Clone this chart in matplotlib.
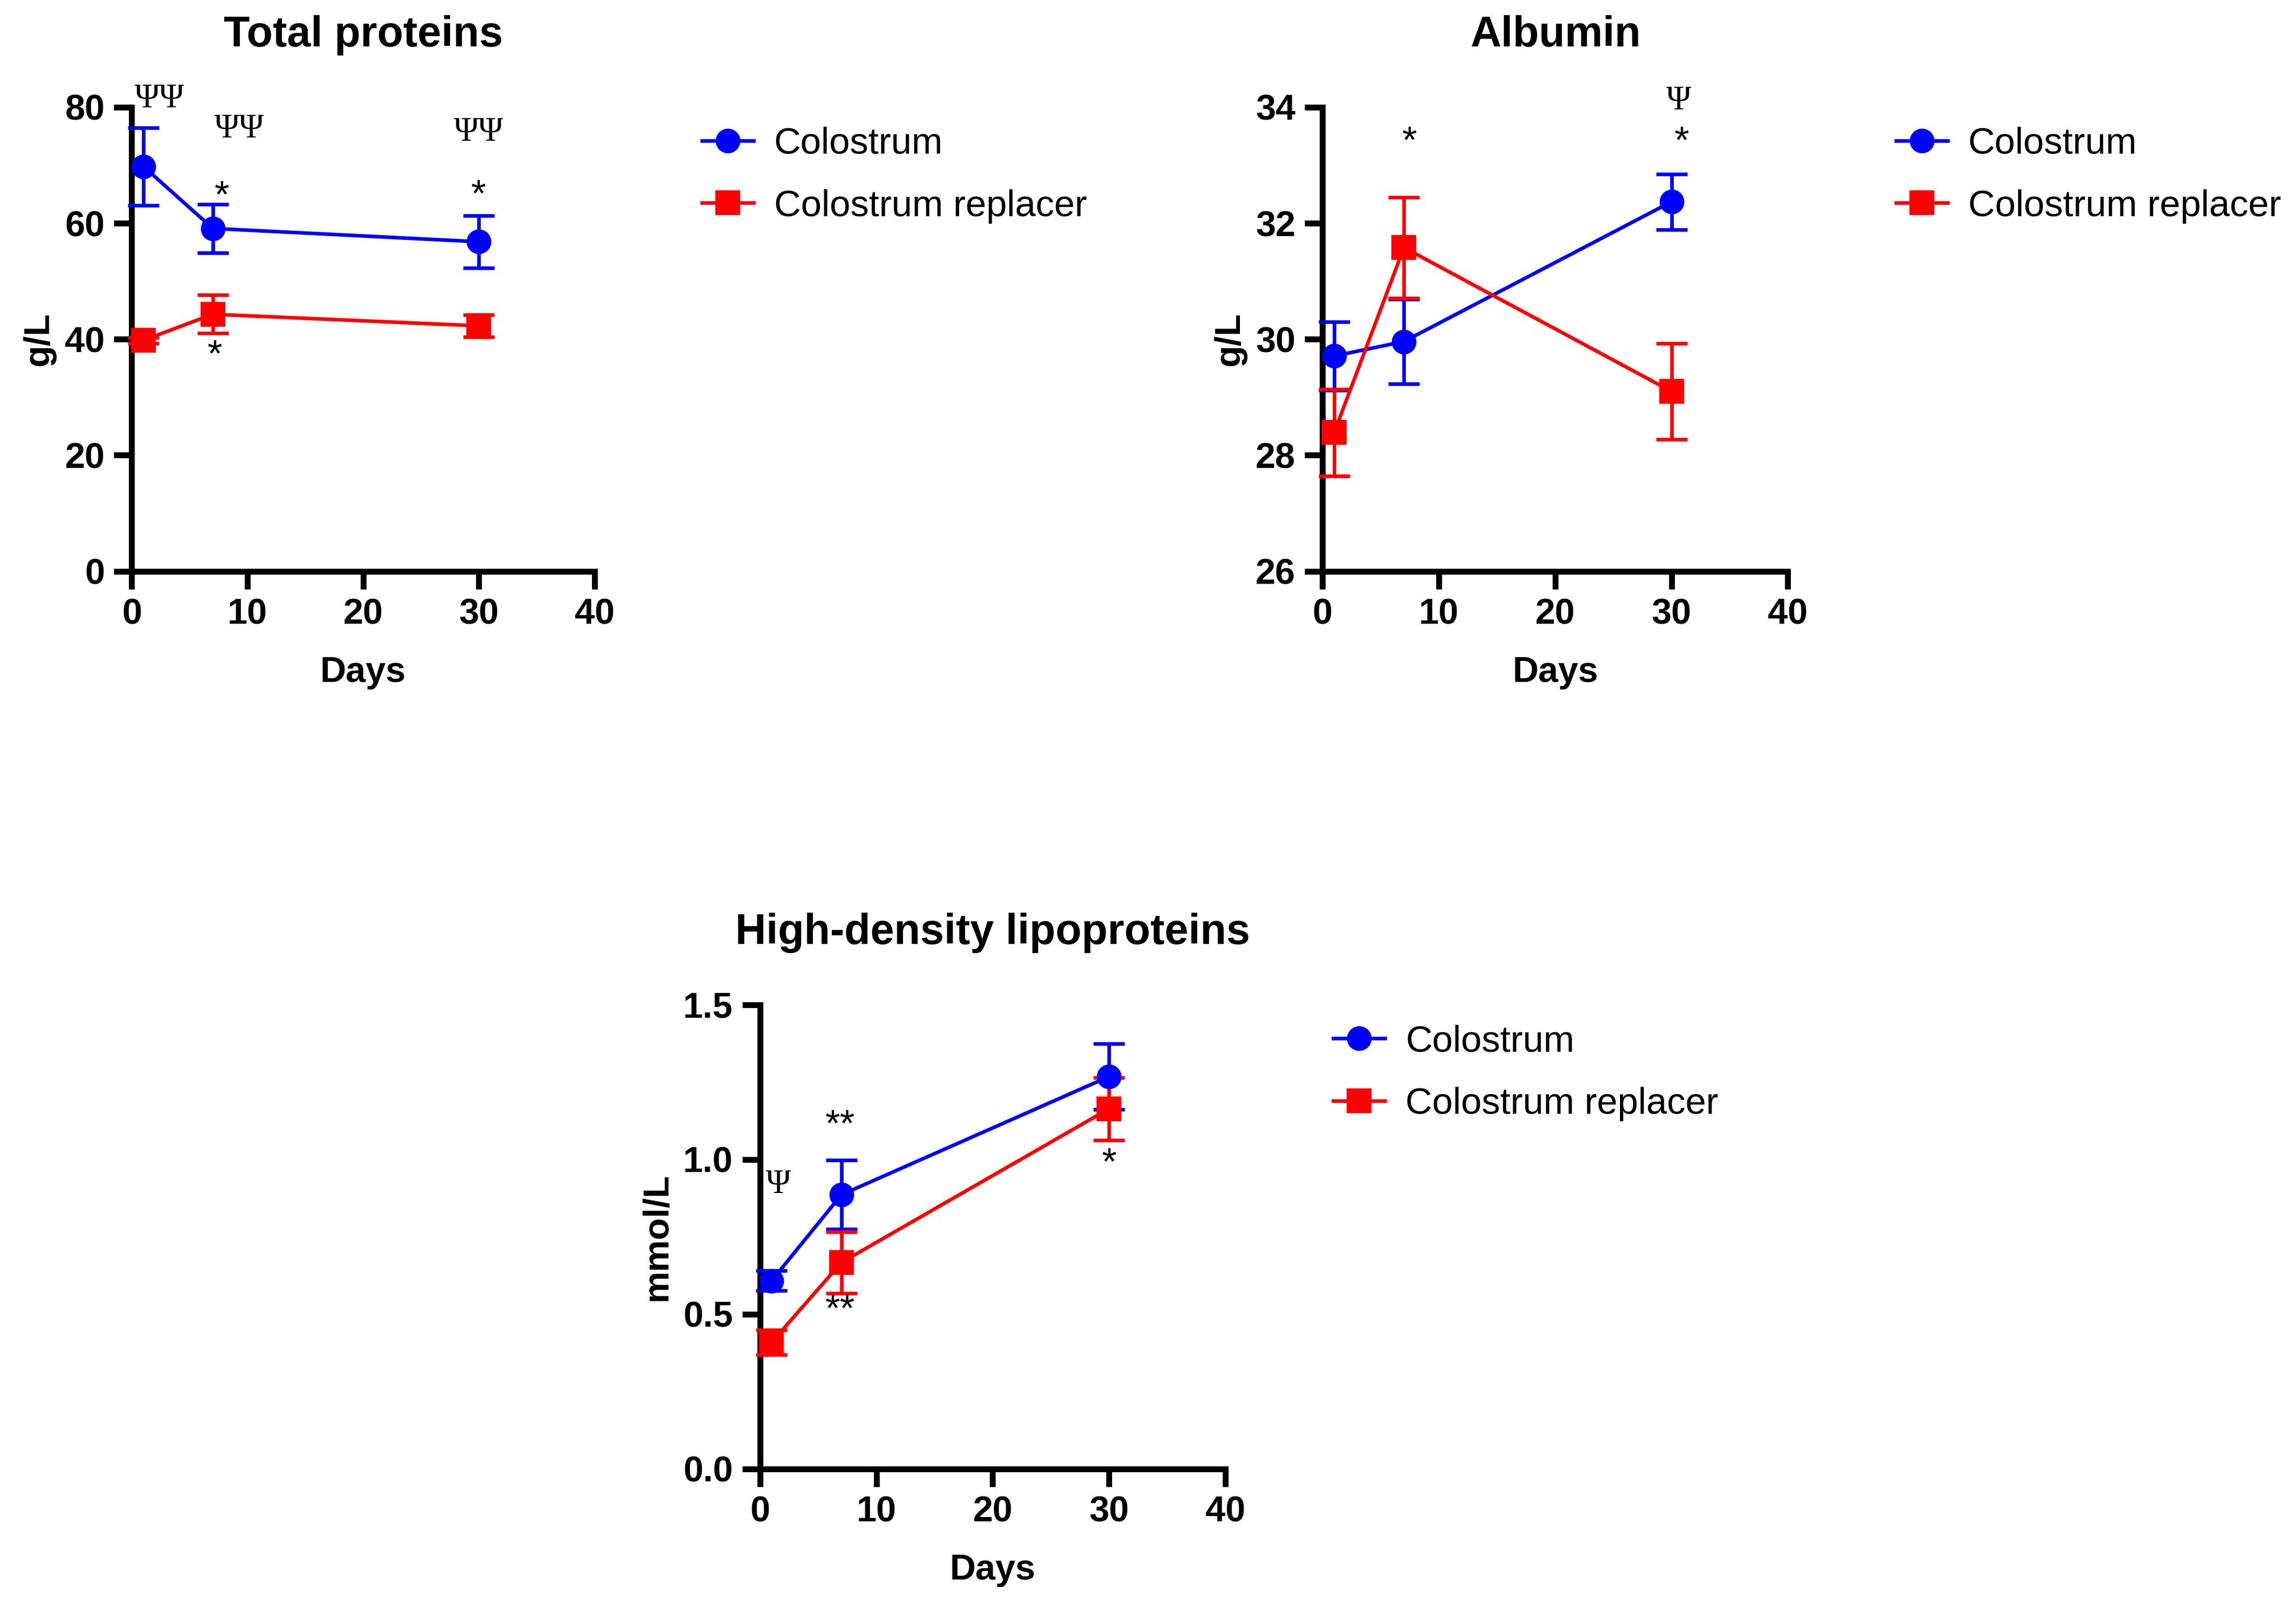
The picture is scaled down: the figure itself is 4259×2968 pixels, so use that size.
import matplotlib
matplotlib.use("Agg")
import matplotlib.pyplot as plt
from matplotlib.lines import Line2D

plt.rcParams['font.family'] = ['Liberation Sans', 'DejaVu Sans']

days = [1, 7, 30]

# Total proteins (g/L)
tp_col = [69.8, 59.1, 56.8]
tp_col_err = [6.7, 4.2, 4.5]
tp_rep = [39.8, 44.3, 42.3]
tp_rep_err = [0.5, 3.3, 1.9]

# Albumin (g/L)
alb_col = [29.71, 29.96, 32.37]
alb_col_err = [0.59, 0.73, 0.48]
alb_rep = [28.39, 31.58, 29.10]
alb_rep_err = [0.75, 0.87, 0.83]

# High-density lipoproteins (mmol/L)
hdl_col = [0.608, 0.886, 1.268]
hdl_col_err = [0.032, 0.112, 0.107]
hdl_rep = [0.409, 0.667, 1.164]
hdl_rep_err = [0.040, 0.100, 0.101]

labels = ['Colostrum', 'Colostrum replacer']
colors = ['#0000FF', '#FF0000']
markers = ['o', 's']

# annotations: (text, x, y)
tp_notes = [('ΨΨ', 2.4, 81.4), ('ΨΨ', 9.3, 76.2), ('ΨΨ', 30.0, 75.6),
            ('*', 7.8, 64.4), ('*', 30.0, 64.6), ('*', 7.2, 37.0)]
alb_notes = [('*', 7.5, 33.38), ('Ψ', 30.6, 34.1), ('*', 30.9, 33.38)]
hdl_notes = [('Ψ', 1.6, 0.918), ('**', 6.9, 1.108), ('**', 6.9, 0.51),
             ('*', 30.0, 0.984)]


def panel(ax, title, ylab, col, col_err, rep, rep_err, ylim, yticks, notes):
    for vals, errs, c, m in [(col, col_err, colors[0], markers[0]),
                             (rep, rep_err, colors[1], markers[1])]:
        ax.errorbar(days, vals, yerr=errs, color=c, marker=m, ms=10,
                    lw=1.6, elinewidth=1.6, capsize=7, capthick=1.6,
                    clip_on=False, zorder=3)
    ax.set_xlim(0, 40)
    ax.set_ylim(*ylim)
    ax.set_xticks([0, 10, 20, 30, 40])
    ax.set_yticks(yticks)
    for s in ['top', 'right']:
        ax.spines[s].set_visible(False)
    for s in ['left', 'bottom']:
        ax.spines[s].set_linewidth(2.6)
    ax.tick_params(width=2.6, length=8, labelsize=16, pad=4)
    for t in ax.get_xticklabels() + ax.get_yticklabels():
        t.set_fontweight('bold')
    ax.set_title(title, fontsize=19, fontweight='bold', pad=27)
    ax.set_xlabel('Days', fontsize=16, fontweight='bold', labelpad=11)
    ax.set_ylabel(ylab, fontsize=16, fontweight='bold', labelpad=4)
    for txt, x, y in notes:
        if 'Ψ' in txt:
            ax.text(x, y, txt, fontsize=15, family=['Liberation Serif', 'DejaVu Serif'],
                    ha='center', va='center', clip_on=False)
        else:
            ax.text(x, y, txt, fontsize=17, ha='center', va='center', clip_on=False)
    handles = [Line2D([], [], color=c, marker=m, ms=10, lw=1.6)
               for c, m in zip(colors, markers)]
    ax.legend(handles, labels, loc='upper left', bbox_to_anchor=(1.2, 0.99),
              frameon=False, fontsize=16.5, handlelength=1.4, handletextpad=0.55,
              labelspacing=0.75, borderaxespad=0)


fig = plt.figure(figsize=(4259 / 300, 2968 / 300), dpi=300)
ax1 = fig.add_axes([0.0574, 0.643, 0.2015, 0.290])
ax2 = fig.add_axes([0.5760, 0.643, 0.2027, 0.290])
ax3 = fig.add_axes([0.3310, 0.082, 0.2027, 0.290])

panel(ax1, 'Total proteins', 'g/L', tp_col, tp_col_err, tp_rep, tp_rep_err,
      (0, 80), [0, 20, 40, 60, 80], tp_notes)
panel(ax2, 'Albumin', 'g/L', alb_col, alb_col_err, alb_rep, alb_rep_err,
      (26, 34), [26, 28, 30, 32, 34], alb_notes)
panel(ax3, 'High-density lipoproteins', 'mmol/L', hdl_col, hdl_col_err,
      hdl_rep, hdl_rep_err, (0, 1.5), [0.0, 0.5, 1.0, 1.5], hdl_notes)
ax3.set_yticklabels(['0.0', '0.5', '1.0', '1.5'], fontweight='bold')

fig.savefig('out.png', dpi=300)
